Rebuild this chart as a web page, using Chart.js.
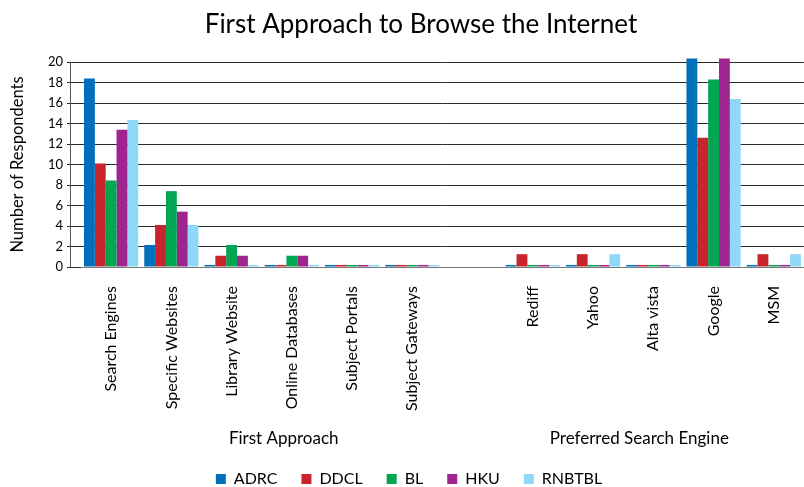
<!DOCTYPE html>
<html>
<head>
<meta charset="utf-8">
<script src="https://cdn.jsdelivr.net/npm/chart.js@4"></script>
<style>
  html, body { margin: 0; padding: 0; background: #fff; }
  #wrap { width: 804px; height: 487px; }
</style>
</head>
<body>
<div id="wrap"><canvas id="chart" width="804" height="487"></canvas></div>
<script>
// Categories (blank slot separates the two groups)
const categories = [
  "Search Engines", "Specific Websites", "Library Website", "Online Databases",
  "Subject Portals", "Subject Gateways", "",
  "Rediff", "Yahoo", "Alta vista", "Google", "MSM"
];
const groupLabels = ["First Approach", "Preferred Search Engine"];
const yTicks = [0, 2, 4, 6, 8, 10, 12, 14, 16, 18, 20];
const chartTitle = "First Approach to Browse the Internet";

// Series values (small stubs ~0.2 are drawn for zero answers)
const adrc   = [18.4, 2.15, 0.2, 0.2, 0.2, 0.2, null, 0.2, 0.2, 0.2, 20.35, 0.2];
const ddcl   = [10.1, 4.1, 1.1, 0.2, 0.2, 0.2, null, 1.25, 1.25, 0.2, 12.6, 1.25];
const bl     = [8.45, 7.4, 2.15, 1.1, 0.2, 0.2, null, 0.2, 0.2, 0.2, 18.3, 0.2];
const hku    = [13.4, 5.4, 1.1, 1.1, 0.2, 0.2, null, 0.2, 0.2, 0.2, 20.35, 0.2];
const rnbtbl = [14.35, 4.1, 0.2, 0.2, 0.2, 0.2, null, 0.2, 1.25, 0.2, 16.4, 1.25];

const seriesNames = ["ADRC", "DDCL", "BL", "HKU", "RNBTBL"];
const seriesColors = ["#0070ba", "#c8242b", "#00a651", "#9e258f", "#8fd8f8"];
const seriesData = [adrc, ddcl, bl, hku, rnbtbl];

const FONT = "Lato, 'Open Sans', sans-serif";

// Draws title, y axis line and group captions; nudges legend right
const extras = {
  id: "extras",
  afterLayout(chart) {
    if (chart.legend) {
      chart.legend.left += 7;
      chart.legend.right += 7;
    }
  },
  afterDraw(chart) {
    const ctx = chart.ctx;
    const y = chart.scales.y;
    const x = chart.scales.x;
    ctx.save();
    ctx.strokeStyle = "#555";
    ctx.lineWidth = 1;
    ctx.beginPath();
    ctx.moveTo(70.5, y.getPixelForValue(20));
    ctx.lineTo(70.5, y.getPixelForValue(0));
    ctx.stroke();
    ctx.fillStyle = "#000";
    ctx.textAlign = "center";
    ctx.textBaseline = "middle";
    ctx.font = "26px " + FONT;
    ctx.fillText(chartTitle, 421, 25);
    ctx.font = "17px " + FONT;
    const c1 = (x.getPixelForValue(0) + x.getPixelForValue(5)) / 2 + 22;
    const c2 = (x.getPixelForValue(7) + x.getPixelForValue(11)) / 2 - 14;
    ctx.fillText(groupLabels[0], c1, 439);
    ctx.fillText(groupLabels[1], c2, 439);
    ctx.restore();
  }
};

new Chart(document.getElementById("chart"), {
  type: "bar",
  data: {
    labels: categories,
    datasets: seriesNames.map((name, i) => ({
      label: name,
      data: seriesData[i],
      backgroundColor: seriesColors[i],
      borderWidth: 0,
      categoryPercentage: 0.9,
      barPercentage: 1.0,
      clip: false
    }))
  },
  options: {
    responsive: false,
    animation: false,
    layout: { padding: { top: 62, right: 0, left: 0, bottom: -10 } },
    plugins: {
      title: { display: false },
      legend: {
        position: "bottom",
        labels: {
          color: "#000",
          font: { family: FONT, size: 16 },
          boxWidth: 10,
          boxHeight: 10,
          padding: 24
        }
      },
      tooltip: { enabled: false }
    },
    scales: {
      x: {
        grid: { display: false },
        border: { display: true, color: "#777", width: 1 },
        ticks: {
          color: "#000",
          font: { family: FONT, size: 16 },
          maxRotation: 90,
          minRotation: 90,
          autoSkip: false,
          padding: 11
        },
        afterFit(scale) { scale.height = 180; }
      },
      y: {
        min: 0,
        max: 20,
        afterBuildTicks(scale) { scale.ticks = yTicks.map(v => ({ value: v })); },
        grid: { color: "#2a2a2a", lineWidth: 1, tickLength: 14, drawTicks: true },
        border: { display: false },
        ticks: {
          color: "#000",
          font: { family: FONT, size: 13 },
          padding: 4
        },
        title: {
          display: true,
          text: "Number of Respondents",
          color: "#000",
          font: { family: FONT, size: 16.5 },
          padding: { top: 8, bottom: 4 }
        },
        afterFit(scale) { scale.width = 81; }
      }
    }
  },
  plugins: [extras]
});
</script>
</body>
</html>
